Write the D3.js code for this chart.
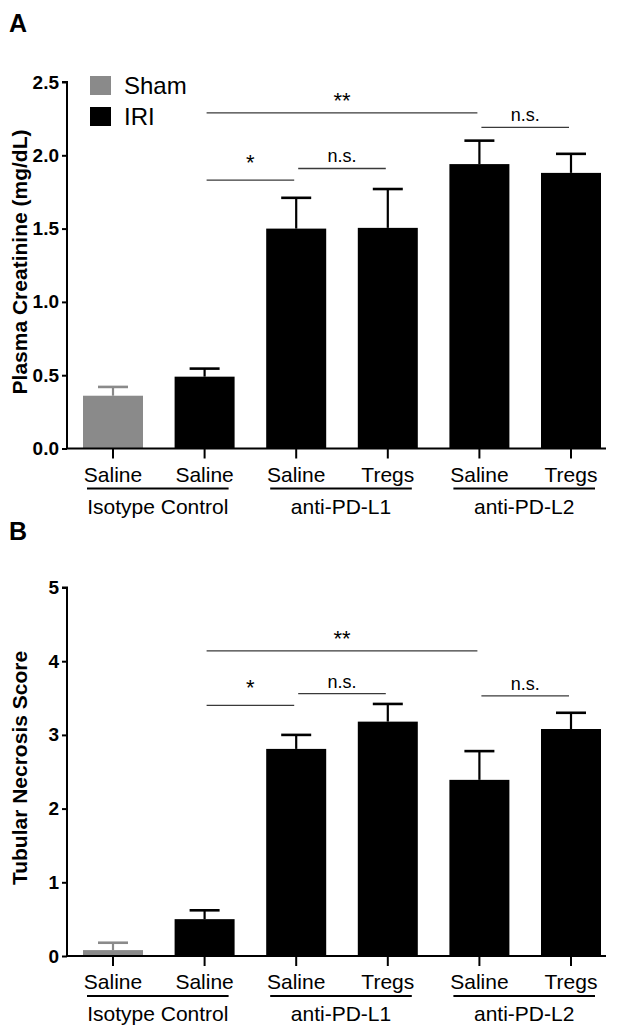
<!DOCTYPE html>
<html>
<head>
<meta charset="utf-8">
<script src="https://cdn.jsdelivr.net/npm/d3@7"></script>
<style>
  html, body { margin: 0; padding: 0; background: #fff; }
  svg { display: block; font-family: "Liberation Sans", Arial, Helvetica, sans-serif; }
</style>
</head>
<body>
<svg id="chart" width="629" height="1035"></svg>
<script>
// ---------- data ----------
const categories = ["Saline", "Saline", "Saline", "Tregs", "Saline", "Tregs"];
const treatments = ["Sham", "IRI", "IRI", "IRI", "IRI", "IRI"];
const groupLabels = ["Isotype Control", "anti-PD-L1", "anti-PD-L2"];
const groupSpans = [[0, 1], [2, 3], [4, 5]];
const legendLabels = ["Sham", "IRI"];

const creatinineMean = [0.36, 0.49, 1.50, 1.505, 1.94, 1.88];
const creatinineSEM  = [0.06, 0.055, 0.21, 0.265, 0.16, 0.13];
const creatinineTicks = [0, 0.5, 1.0, 1.5, 2.0, 2.5];
const creatinineSig = [
  { from: 1, to: 4, y: 2.29, label: "**" },
  { from: 1, to: 2, y: 1.83, label: "*" },
  { from: 2, to: 3, y: 1.91, label: "n.s." },
  { from: 4, to: 5, y: 2.19, label: "n.s." }
];

const necrosisMean = [0.08, 0.50, 2.81, 3.18, 2.39, 3.08];
const necrosisSEM  = [0.10, 0.12, 0.19, 0.24, 0.39, 0.22];
const necrosisTicks = [0, 1, 2, 3, 4, 5];
const necrosisSig = [
  { from: 1, to: 4, y: 4.14, label: "**" },
  { from: 1, to: 2, y: 3.40, label: "*" },
  { from: 2, to: 3, y: 3.56, label: "n.s." },
  { from: 4, to: 5, y: 3.53, label: "n.s." }
];

// ---------- drawing ----------
const svg = d3.select("#chart");
const color = d3.scaleOrdinal().domain(legendLabels).range(["#8a8a8a", "#000000"]);
const idx = d3.range(categories.length);

const x = d3.scaleBand().domain(idx).range([83, 601]).paddingInner(0.345).paddingOuter(0);

function drawPanel(opt) {
  const g = svg.append("g");
  const y = d3.scaleLinear().domain([0, opt.max]).range([opt.y0, opt.yTop]);
  const axisLeftX = 67, axisRightX = 606;

  // panel letter
  g.append("text").attr("x", 9).attr("y", opt.letterY)
    .attr("font-size", 25).attr("font-weight", "bold").text(opt.letter);

  // bars
  g.selectAll("rect.bar").data(idx).join("rect")
    .attr("class", "bar")
    .attr("x", i => x(i))
    .attr("width", x.bandwidth())
    .attr("y", i => y(opt.mean[i]))
    .attr("height", i => y(0) - y(opt.mean[i]))
    .attr("fill", i => color(treatments[i]));

  // error bars (upper only)
  const eb = g.selectAll("g.eb").data(idx).join("g").attr("class", "eb");
  eb.append("line")
    .attr("x1", i => x(i) + x.bandwidth() / 2).attr("x2", i => x(i) + x.bandwidth() / 2)
    .attr("y1", i => y(opt.mean[i])).attr("y2", i => y(opt.mean[i] + opt.sem[i]))
    .attr("stroke", i => color(treatments[i])).attr("stroke-width", 2.2);
  eb.append("line")
    .attr("x1", i => x(i) + x.bandwidth() / 2 - 15).attr("x2", i => x(i) + x.bandwidth() / 2 + 15)
    .attr("y1", i => y(opt.mean[i] + opt.sem[i])).attr("y2", i => y(opt.mean[i] + opt.sem[i]))
    .attr("stroke", i => color(treatments[i])).attr("stroke-width", 2.6);

  // y axis
  const yAxis = d3.axisLeft(y).tickValues(opt.ticks).tickSize(5).tickPadding(3)
    .tickFormat(opt.fmt);
  const ya = g.append("g").attr("transform", `translate(${axisLeftX},0)`).call(yAxis);
  ya.select(".domain").attr("stroke", "#000").attr("stroke-width", 2)
    .attr("d", `M-5,${y(opt.max)}H0V${y(0)}`);
  ya.selectAll(".tick line").attr("stroke", "#000").attr("stroke-width", 2);
  ya.selectAll(".tick text").attr("font-size", 19).attr("font-weight", "bold")
    .attr("font-family", "Liberation Sans, Arial, sans-serif").attr("fill", "#000");

  // x axis line
  g.append("line").attr("x1", axisLeftX - 1).attr("x2", axisRightX)
    .attr("y1", y(0)).attr("y2", y(0)).attr("stroke", "#000").attr("stroke-width", 2);
  // x ticks
  const xa = d3.axisBottom(x).tickSize(10).tickPadding(4).tickFormat(i => categories[i]);
  const xg = g.append("g").attr("transform", `translate(0,${y(0)})`).call(xa);
  xg.select(".domain").remove();
  xg.selectAll(".tick line").attr("stroke", "#000").attr("stroke-width", 2);
  xg.selectAll(".tick text").attr("font-size", 21).attr("fill", "#000")
    .attr("font-family", "Liberation Sans, Arial, sans-serif")
    .attr("dy", null).attr("y", 33);

  // group underline + labels
  groupSpans.forEach((s, k) => {
    const xa0 = x(s[0]) + 4, xa1 = x(s[1]) + x.bandwidth() - 6;
    g.append("line").attr("x1", xa0).attr("x2", xa1)
      .attr("y1", y(0) + 40).attr("y2", y(0) + 40)
      .attr("stroke", "#000").attr("stroke-width", 1.8);
    g.append("text").attr("x", (xa0 + xa1) / 2).attr("y", y(0) + 65)
      .attr("text-anchor", "middle").attr("font-size", 21).text(groupLabels[k]);
  });

  // y axis title
  g.append("text")
    .attr("transform", `translate(27,${opt.titleY}) rotate(-90)`)
    .attr("text-anchor", "middle").attr("font-size", 21).attr("font-weight", "bold")
    .text(opt.title);

  // significance brackets
  opt.sig.forEach(s => {
    const cx = i => x(i) + x.bandwidth() / 2;
    const x1 = cx(s.from) + 2, x2 = cx(s.to) - 2;
    const ly = y(s.y);
    g.append("line").attr("x1", x1).attr("x2", x2).attr("y1", ly).attr("y2", ly)
      .attr("stroke", "#3a3a3a").attr("stroke-width", 1.3);
    const isStar = s.label.indexOf("*") >= 0;
    const off = s.label === "*" ? 10 : (isStar ? 5 : 6);
    g.append("text").attr("x", (x1 + x2) / 2).attr("y", ly - off)
      .attr("text-anchor", "middle").attr("font-size", isStar ? 22 : 18)
      .text(s.label);
  });

  return y;
}

drawPanel({
  letter: "A", letterY: 32, max: 2.5, y0: 448.5, yTop: 82,
  mean: creatinineMean, sem: creatinineSEM, ticks: creatinineTicks,
  fmt: d3.format(".1f"), sig: creatinineSig,
  title: "Plasma Creatinine (mg/dL)", titleY: 262
});

drawPanel({
  letter: "B", letterY: 540, max: 5, y0: 956, yTop: 587.5,
  mean: necrosisMean, sem: necrosisSEM, ticks: necrosisTicks,
  fmt: d3.format("d"), sig: necrosisSig,
  title: "Tubular Necrosis Score", titleY: 768
});

// legend (panel A)
const lg = svg.append("g");
legendLabels.forEach((l, k) => {
  const ly = 76 + k * 31;
  lg.append("rect").attr("x", 90).attr("y", ly).attr("width", 21).attr("height", 19)
    .attr("fill", color(l));
  lg.append("text").attr("x", 124).attr("y", ly + 18).attr("font-size", 24).text(l);
});
</script>
</body>
</html>
